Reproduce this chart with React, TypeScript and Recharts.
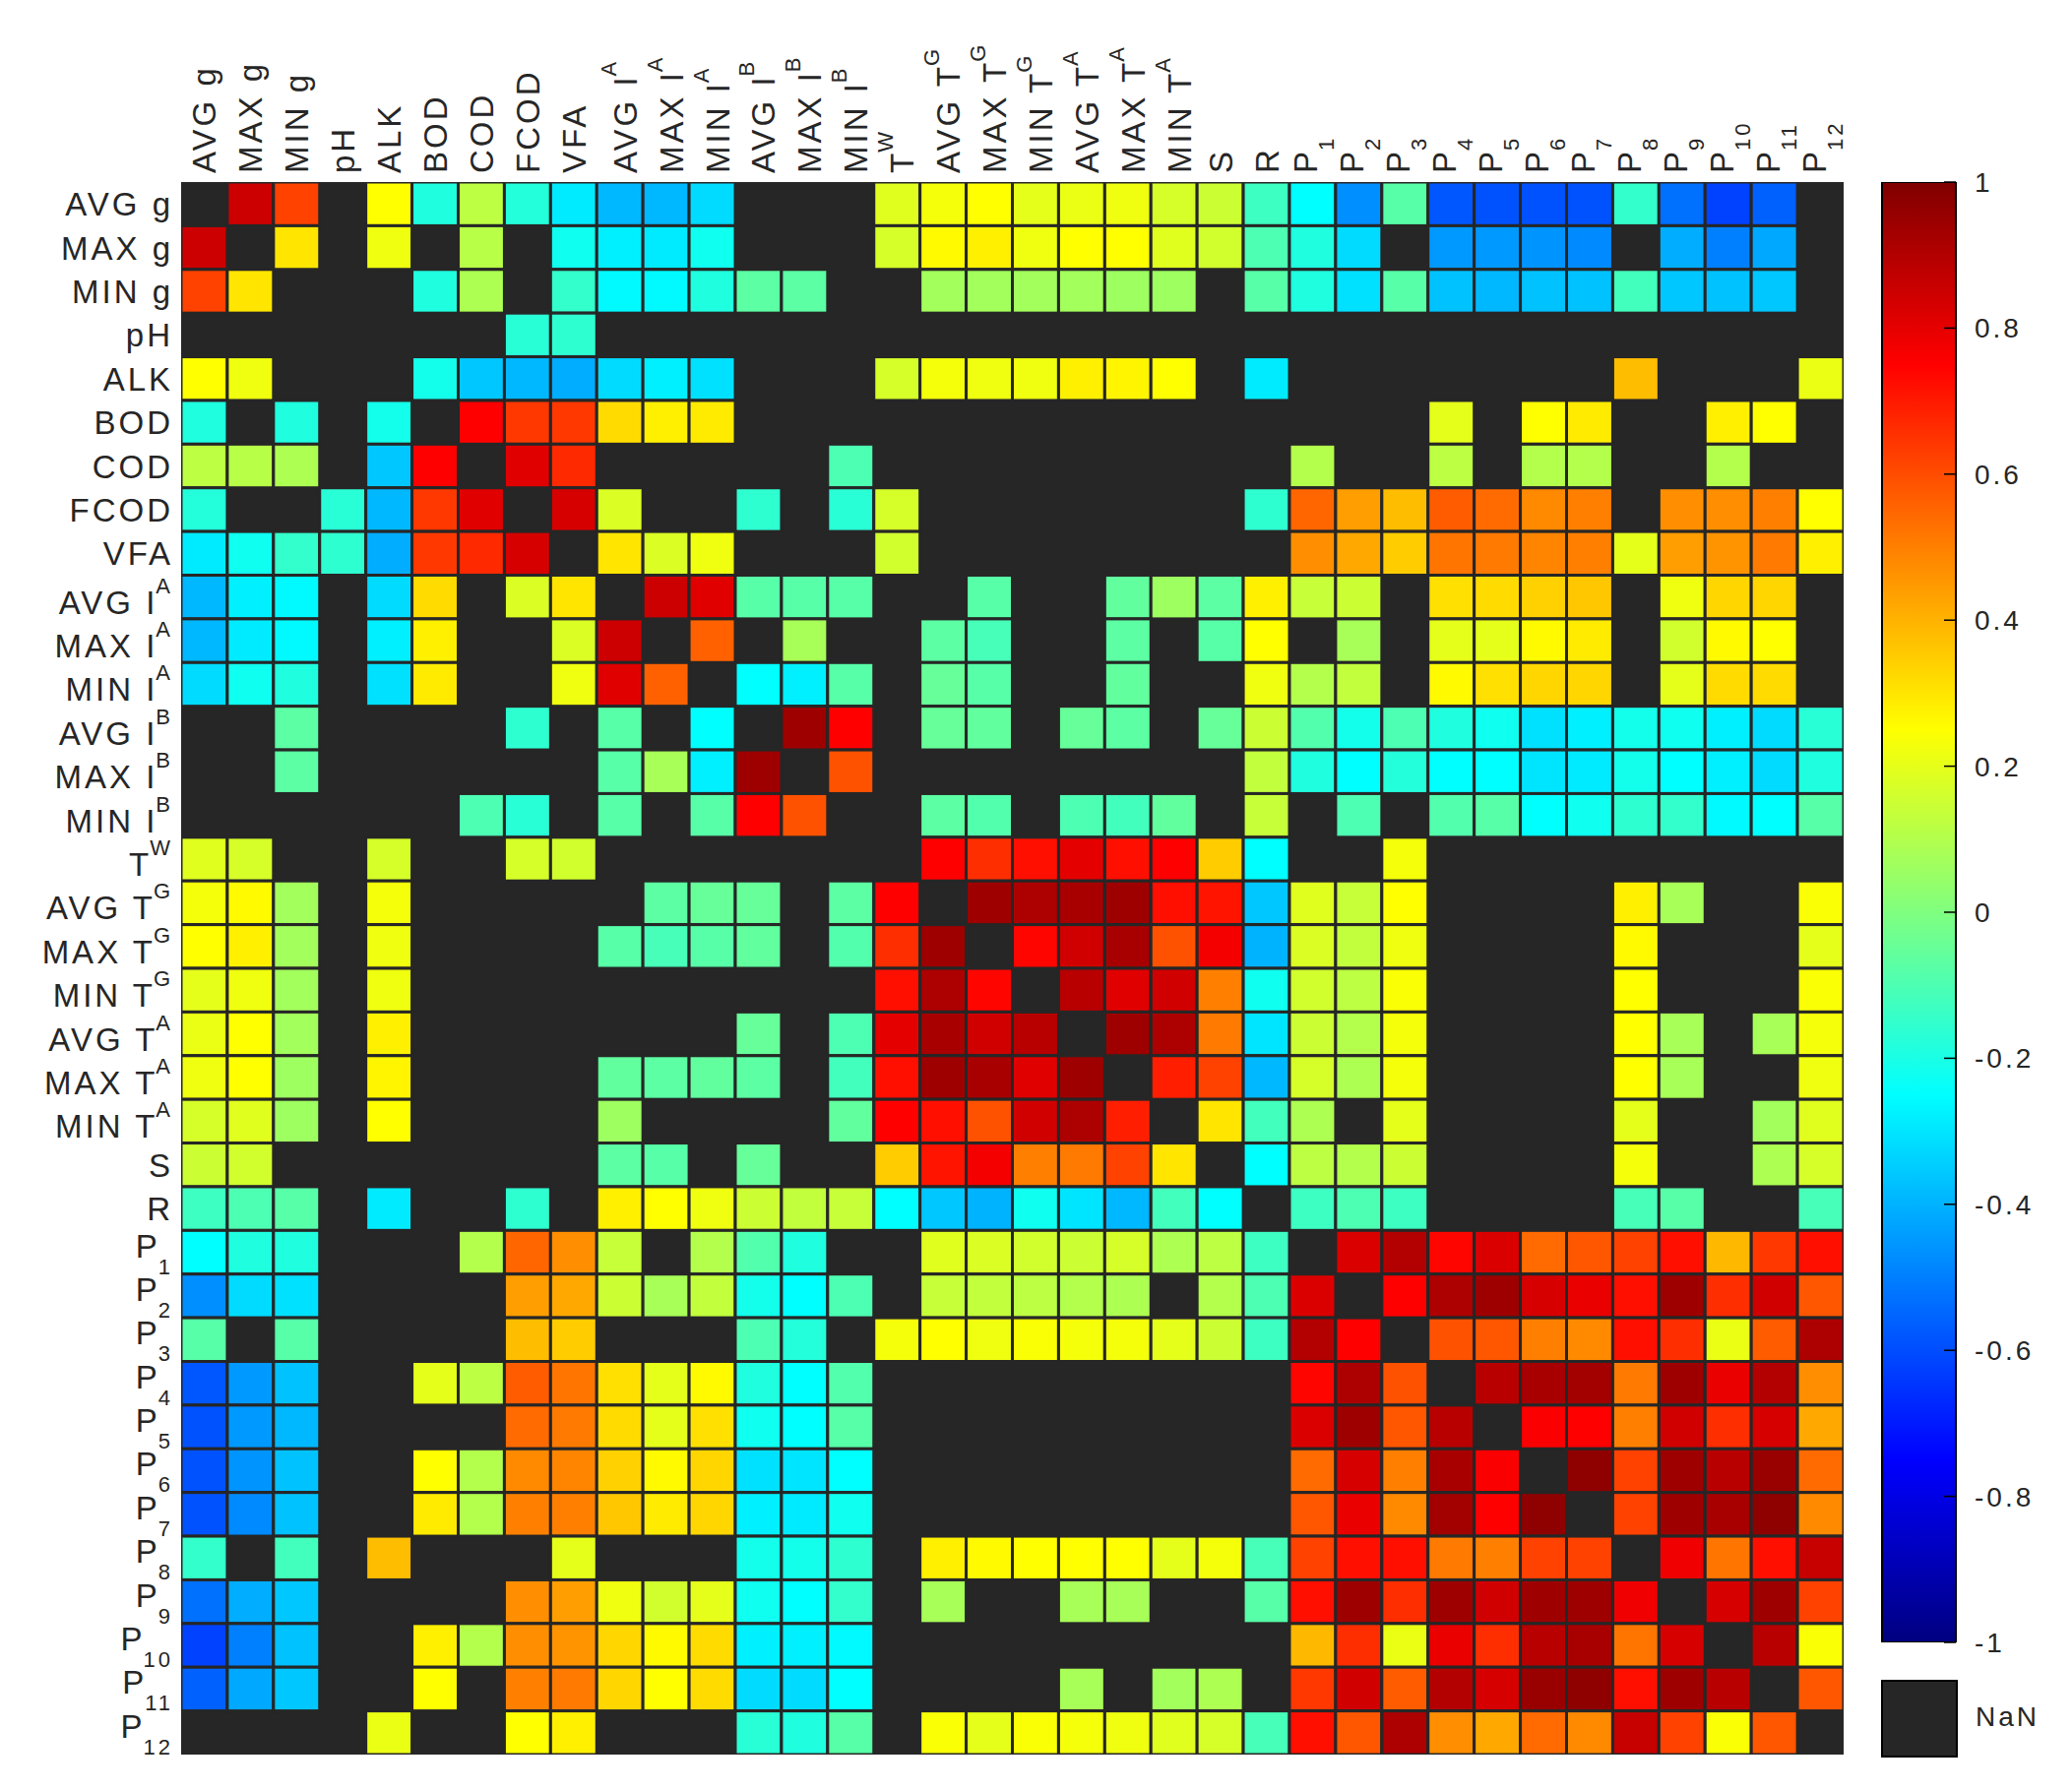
import { ScatterChart, Scatter, XAxis, YAxis, ReferenceArea, BarChart, Bar } from 'recharts';

const _ = null;

// "^" marks a superscript, "_" a subscript
const variables = [
  'AVG g', 'MAX g', 'MIN g', 'pH', 'ALK', 'BOD', 'COD', 'FCOD', 'VFA',
  'AVG I^A', 'MAX I^A', 'MIN I^A', 'AVG I^B', 'MAX I^B', 'MIN I^B', 'T^W',
  'AVG T^G', 'MAX T^G', 'MIN T^G', 'AVG T^A', 'MAX T^A', 'MIN T^A', 'S', 'R',
  'P_1', 'P_2', 'P_3', 'P_4', 'P_5', 'P_6', 'P_7', 'P_8', 'P_9', 'P_10', 'P_11', 'P_12',
];

// upper triangle of the correlation matrix, row i holds columns i+1..35 (null = NaN)
const upper: (number | null)[][] = [
  [0.85, 0.62, _, 0.25, -0.19, 0.12, -0.18, -0.29, -0.39, -0.39, -0.32, _, _, _, 0.19, 0.23, 0.25, 0.2, 0.21, 0.22, 0.17, 0.15, -0.13, -0.25, -0.47, -0.08, -0.58, -0.59, -0.59, -0.59, -0.15, -0.53, -0.62, -0.56, _],
  [0.3, _, 0.22, _, 0.11, _, -0.22, -0.28, -0.29, -0.22, _, _, _, 0.17, 0.26, 0.28, 0.22, 0.25, 0.25, 0.19, 0.16, -0.1, -0.19, -0.32, _, -0.45, -0.45, -0.46, -0.48, _, -0.41, -0.5, -0.42, _],
  [_, _, -0.19, 0.09, _, -0.15, -0.26, -0.26, -0.19, -0.07, -0.07, _, _, 0.07, 0.07, 0.07, 0.07, 0.06, 0.06, _, -0.08, -0.19, -0.31, -0.08, -0.37, -0.39, -0.37, -0.37, -0.12, -0.36, -0.37, -0.36, _],
  [_, _, _, -0.17, -0.16, _, _, _, _, _, _, _, _, _, _, _, _, _, _, _, _, _, _, _, _, _, _, _, _, _, _, _],
  [-0.21, -0.36, -0.39, -0.41, -0.32, -0.28, -0.31, _, _, _, 0.17, 0.23, 0.22, 0.22, 0.28, 0.27, 0.25, _, -0.29, _, _, _, _, _, _, _, 0.38, _, _, _, 0.21],
  [0.75, 0.64, 0.64, 0.32, 0.28, 0.29, _, _, _, _, _, _, _, _, _, _, _, _, _, _, _, 0.2, _, 0.25, 0.29, _, _, 0.28, 0.25, _],
  [0.81, 0.67, _, _, _, _, _, -0.1, _, _, _, _, _, _, _, _, _, 0.1, _, _, 0.12, _, 0.1, 0.1, _, _, 0.1, _, _],
  [0.83, 0.18, _, _, -0.16, _, -0.17, 0.17, _, _, _, _, _, _, _, -0.16, 0.55, 0.44, 0.38, 0.57, 0.54, 0.48, 0.5, _, 0.47, 0.47, 0.5, 0.25],
  [0.3, 0.18, 0.22, _, _, _, 0.16, _, _, _, _, _, _, _, _, 0.47, 0.42, 0.35, 0.52, 0.51, 0.49, 0.5, 0.2, 0.44, 0.46, 0.51, 0.28],
  [0.85, 0.81, -0.08, -0.08, -0.08, _, _, -0.08, _, _, -0.06, 0.06, -0.07, 0.28, 0.14, 0.15, _, 0.31, 0.32, 0.34, 0.36, _, 0.22, 0.33, 0.33, _],
  [0.56, _, 0.08, _, _, -0.07, -0.11, _, _, -0.07, _, -0.08, 0.25, _, 0.08, _, 0.2, 0.2, 0.26, 0.29, _, 0.16, 0.26, 0.25, _],
  [-0.25, -0.28, -0.08, _, -0.05, -0.08, _, _, -0.06, _, _, 0.22, 0.1, 0.13, _, 0.26, 0.31, 0.33, 0.33, _, 0.2, 0.32, 0.32, _],
  [0.94, 0.75, _, -0.05, -0.06, _, -0.05, -0.07, _, -0.05, 0.15, -0.09, -0.21, -0.1, -0.19, -0.22, -0.31, -0.28, -0.21, -0.22, -0.28, -0.32, -0.17],
  [0.59, _, _, _, _, _, _, _, _, 0.13, -0.19, -0.25, -0.18, -0.25, -0.25, -0.3, -0.29, -0.21, -0.25, -0.28, -0.32, -0.19],
  [_, -0.07, -0.09, _, -0.1, -0.12, -0.06, _, 0.14, _, -0.1, _, -0.09, -0.08, -0.25, -0.22, -0.16, -0.15, -0.26, -0.25, -0.08],
  [0.75, 0.66, 0.72, 0.8, 0.72, 0.75, 0.35, -0.25, _, _, 0.23, _, _, _, _, _, _, _, _, _, _, _],
  [0.94, 0.91, 0.92, 0.94, 0.72, 0.71, -0.36, 0.19, 0.14, 0.25, _, _, _, _, 0.28, 0.08, _, _, 0.24],
  [0.74, 0.84, 0.92, 0.59, 0.77, -0.4, 0.18, 0.13, 0.22, _, _, _, _, 0.26, _, _, _, 0.2],
  [0.89, 0.81, 0.84, 0.5, -0.22, 0.16, 0.12, 0.24, _, _, _, _, 0.25, _, _, _, 0.24],
  [0.94, 0.91, 0.51, -0.3, 0.15, 0.1, 0.23, _, _, _, _, 0.25, 0.08, _, 0.08, 0.23],
  [0.69, 0.62, -0.39, 0.17, 0.09, 0.23, _, _, _, _, 0.25, 0.08, _, _, 0.22],
  [0.3, -0.12, 0.09, _, 0.2, _, _, _, _, 0.2, _, _, 0.07, 0.19],
  [-0.25, 0.12, 0.1, 0.15, _, _, _, _, 0.23, _, _, 0.09, 0.17],
  [-0.13, -0.1, -0.13, _, _, _, _, -0.11, -0.08, _, _, -0.11],
  [0.82, 0.9, 0.74, 0.82, 0.54, 0.58, 0.62, 0.72, 0.39, 0.64, 0.72],
  [0.75, 0.91, 0.94, 0.83, 0.79, 0.72, 0.94, 0.66, 0.84, 0.58],
  [0.59, 0.58, 0.5, 0.48, 0.72, 0.66, 0.21, 0.57, 0.91],
  [0.89, 0.92, 0.93, 0.51, 0.94, 0.79, 0.9, 0.47],
  [0.76, 0.75, 0.5, 0.84, 0.66, 0.83, 0.42],
  [0.97, 0.62, 0.94, 0.89, 0.95, 0.54],
  [0.62, 0.94, 0.92, 0.97, 0.48],
  [0.78, 0.52, 0.72, 0.86],
  [0.83, 0.94, 0.62],
  [0.89, 0.24],
  [0.58],
  [],
];

const colorTicks = [-1, -0.8, -0.6, -0.4, -0.2, 0, 0.2, 0.4, 0.6, 0.8, 1];
const colorbarData = [{ name: 'r', range: [-1, 1] }];

const TEXT = '#262626';
const NAN = '#262626';
const FONT = '"Liberation Sans", Arial, Helvetica, sans-serif';

const W = 1880;
const H = 1786;
const MARGIN = { top: 17, right: 15, bottom: 11, left: 16 };
const Y_AXIS_W = 160;
const X_AXIS_H = 160;
const N = variables.length;
const CELL_W = (W - MARGIN.left - MARGIN.right - Y_AXIS_W) / N;
const CELL_H = (H - MARGIN.top - MARGIN.bottom - X_AXIS_H) / N;

// MATLAB jet
const jet = (v: number) => {
  const t = (v + 1) / 2;
  const c = (x: number) => Math.round(255 * Math.max(0, Math.min(1, x)));
  return `rgb(${c(1.5 - Math.abs(4 * t - 3))},${c(1.5 - Math.abs(4 * t - 2))},${c(1.5 - Math.abs(4 * t - 1))})`;
};

const valueAt = (i: number, j: number) => {
  if (i === j) return null;
  return i < j ? upper[i][j - i - 1] : upper[j][i - j - 1];
};

const cells: { x: number; y: number; v: number }[] = [];
for (let i = 0; i < N; i++) {
  for (let j = 0; j < N; j++) {
    const v = valueAt(i, j);
    if (v !== null && v !== undefined) cells.push({ x: j, y: i, v });
  }
}

const parseLabel = (s: string) => {
  const m = s.match(/^(.*?)([_^])(.+)$/);
  if (!m) return { base: s, kind: '', script: '' };
  return { base: m[1], kind: m[2], script: m[3] };
};

const Label = ({ name }: { name: string }) => {
  const { base, kind, script } = parseLabel(name);
  const baseDy = kind === '_' ? 5 : kind === '^' ? 17 : 12;
  return (
    <>
      <tspan dy={baseDy}>{base}</tspan>
      {script && (
        <tspan dx={-2} dy={kind === '_' ? 17 : -21} fontSize={22}>
          {script}
        </tspan>
      )}
    </>
  );
};

const YTick = ({ x, y, payload }: any) => (
  <text x={x} y={y} textAnchor="end" fontSize={33} fontFamily={FONT} fill={TEXT} letterSpacing={3}>
    <Label name={variables[payload.value]} />
  </text>
);

const XTick = ({ x, y, payload }: any) => (
  <text
    transform={`translate(${x},${y}) rotate(-90)`}
    x={0}
    y={0}
    textAnchor="start"
    fontSize={33}
    fontFamily={FONT}
    fill={TEXT}
    letterSpacing={3}
  >
    <Label name={variables[payload.value]} />
  </text>
);

const Cell = ({ cx, cy, payload }: any) => (
  <rect
    x={cx - CELL_W / 2}
    y={cy - CELL_H / 2}
    width={CELL_W}
    height={CELL_H}
    fill={jet(payload.v)}
    stroke={NAN}
    strokeWidth={3}
  />
);

const CbTick = ({ x, y, payload }: any) => (
  <g>
    <line x1={x - 12} x2={x} y1={y} y2={y} stroke="#000" strokeWidth={1.5} />
    <text x={x + 19} y={y} dy={10} fontSize={28} fontFamily={FONT} fill={TEXT} letterSpacing={3}>
      {String(payload.value)}
    </text>
  </g>
);

const ticks = variables.map((_v, i) => i);

export default function App() {
  return (
    <div style={{ position: 'relative', width: 2089, height: 1803, background: '#fff' }}>
      <div style={{ position: 'absolute', left: 0, top: 0 }}>
        <ScatterChart width={W} height={H} margin={MARGIN}>
          <XAxis
            type="number"
            dataKey="x"
            orientation="top"
            domain={[-0.5, N - 0.5]}
            ticks={ticks}
            interval={0}
            allowDataOverflow
            height={X_AXIS_H}
            axisLine={false}
            tickLine={false}
            tickSize={0}
            tickMargin={9}
            tick={<XTick />}
          />
          <YAxis
            type="number"
            dataKey="y"
            reversed
            domain={[-0.5, N - 0.5]}
            ticks={ticks}
            interval={0}
            allowDataOverflow
            width={Y_AXIS_W}
            axisLine={false}
            tickLine={false}
            tickSize={0}
            tickMargin={8}
            tick={<YTick />}
          />
          <ReferenceArea x1={-0.5} x2={N - 0.5} y1={-0.5} y2={N - 0.5} fill={NAN} fillOpacity={1} stroke="none" />
          <Scatter data={cells} shape={<Cell />} isAnimationActive={false} />
        </ScatterChart>
      </div>
      <div style={{ position: 'absolute', left: 1892, top: 147 }}>
        <BarChart
          width={200}
          height={1544}
          data={colorbarData}
          margin={{ top: 30, right: 0, bottom: 30, left: 12 }}
          barCategoryGap={0}
        >
          <defs>
            <linearGradient id="jetGrad" x1="0" y1="1" x2="0" y2="0">
              <stop offset="0" stopColor="#000080" />
              <stop offset="0.125" stopColor="#0000ff" />
              <stop offset="0.375" stopColor="#00ffff" />
              <stop offset="0.625" stopColor="#ffff00" />
              <stop offset="0.875" stopColor="#ff0000" />
              <stop offset="1" stopColor="#800000" />
            </linearGradient>
          </defs>
          <XAxis dataKey="name" hide />
          <YAxis
            type="number"
            orientation="right"
            domain={[-1, 1]}
            ticks={colorTicks}
            interval={0}
            allowDataOverflow
            width={113}
            axisLine={false}
            tickLine={false}
            tickSize={0}
            tickMargin={0}
            tick={<CbTick />}
          />
          <Bar dataKey="range" fill="url(#jetGrad)" stroke="#000" strokeWidth={2} isAnimationActive={false} />
        </BarChart>
      </div>
      <div
        style={{
          position: 'absolute',
          left: 1903,
          top: 1699,
          width: 74,
          height: 75,
          background: NAN,
          border: '2px solid #000',
        }}
      />
      <div
        style={{
          position: 'absolute',
          left: 1999,
          top: 1721,
          fontSize: 28,
          fontFamily: FONT,
          color: TEXT,
          letterSpacing: 3,
        }}
      >
        NaN
      </div>
    </div>
  );
}
